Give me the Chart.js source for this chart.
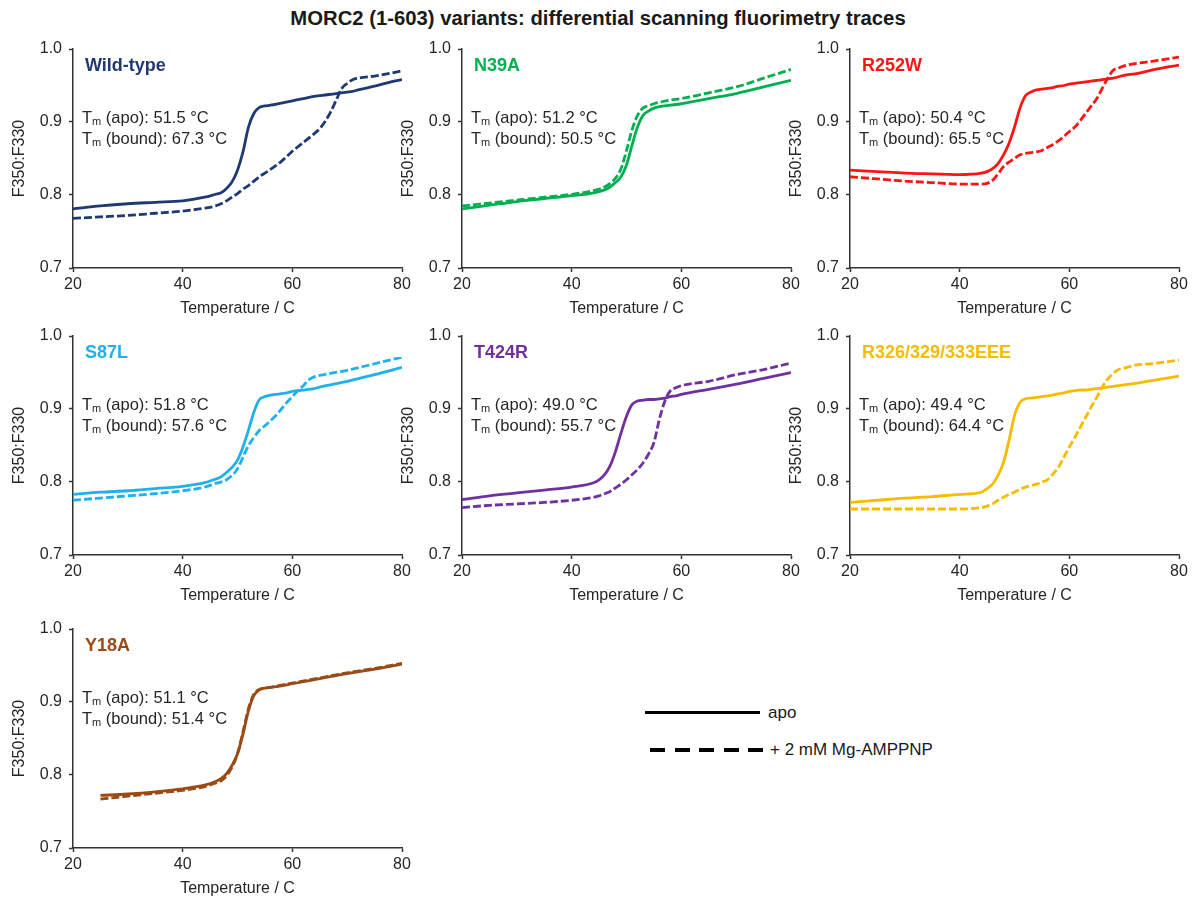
<!DOCTYPE html>
<html>
<head>
<meta charset="utf-8">
<script src="https://cdn.jsdelivr.net/npm/chart.js@4.4.0/dist/chart.umd.min.js"></script>
<style>
  html, body { margin:0; padding:0; background:#fff; }
  body { width:1196px; height:899px; position:relative; overflow:hidden; font-family:"Liberation Sans", Arial, sans-serif; }
  canvas { position:absolute; }
  #title { position:absolute; left:0; width:1196px; top:6px; text-align:center; font-weight:bold; font-size:20.3px; line-height:24px; color:#1a1a1a; }
  .leg-text { position:absolute; font-size:17px; line-height:20px; color:#1a1a1a; white-space:nowrap; }
  #legSolid { position:absolute; left:645px; top:711px; width:115px; height:3px; background:#000; }
  #legDash { position:absolute; left:650px; top:748px; width:113px; height:4px;
    background:repeating-linear-gradient(to right, #000 0 15px, transparent 15px 24.5px); }
</style>
</head>
<body>
<div id="title">MORC2 (1-603) variants: differential scanning fluorimetry traces</div>
<div id="legSolid"></div>
<div class="leg-text" style="left:768px; top:703px;">apo</div>
<div id="legDash"></div>
<div class="leg-text" style="left:770px; top:740px;">+ 2 mM Mg-AMPPNP</div>

<script>
// ---------- tick labels / axis settings ----------
const xTicks = [20, 40, 60, 80];
const yTicks = [0.7, 0.8, 0.9, 1.0];
const xTitle = 'Temperature / C';
const yTitle = 'F350:F330';

// ---------- Wild-type ----------
const wtTemps = [20,25,30,35,40,44,46,47,48,49,50,51,52,53,54,55,56,58,60,62,64,65,66,67,68,69,70,71,72,75,78,80];
const wtApo   = [0.781,0.785,0.788,0.790,0.792,0.797,0.801,0.803,0.809,0.818,0.834,0.859,0.893,0.912,0.920,0.922,0.923,0.926,0.929,0.932,0.935,0.936,0.937,0.938,0.939,0.940,0.941,0.942,0.944,0.949,0.955,0.958];
const wtBound = [0.768,0.770,0.772,0.775,0.778,0.782,0.785,0.788,0.792,0.797,0.802,0.808,0.813,0.819,0.825,0.830,0.835,0.846,0.860,0.872,0.884,0.891,0.901,0.914,0.930,0.946,0.953,0.958,0.960,0.963,0.967,0.970];

// ---------- N39A ----------
const n39Temps = [20,25,30,35,40,44,46,47,48,49,50,51,52,53,54,55,56,58,60,65,70,75,80];
const n39Apo   = [0.781,0.786,0.791,0.795,0.799,0.803,0.807,0.811,0.817,0.825,0.841,0.868,0.893,0.909,0.915,0.919,0.921,0.923,0.925,0.932,0.939,0.948,0.957];
const n39Bound = [0.785,0.789,0.793,0.797,0.801,0.806,0.811,0.816,0.823,0.836,0.861,0.889,0.909,0.919,0.922,0.925,0.927,0.930,0.932,0.940,0.948,0.960,0.972];

// ---------- R252W ----------
const r252Temps = [20,25,30,35,40,44,45,46,47,48,49,50,51,52,53,54,55,56,57,58,59,60,61,62,63,64,65,66,67,68,69,70,72,75,80];
const r252Apo   = [0.834,0.832,0.830,0.829,0.828,0.830,0.832,0.836,0.843,0.855,0.871,0.893,0.919,0.936,0.941,0.944,0.945,0.946,0.947,0.949,0.950,0.952,0.953,0.954,0.955,0.956,0.957,0.958,0.959,0.960,0.962,0.964,0.966,0.971,0.978];
const r252Bound = [0.825,0.822,0.819,0.817,0.815,0.815,0.816,0.820,0.829,0.839,0.845,0.850,0.855,0.857,0.858,0.859,0.861,0.865,0.869,0.874,0.880,0.887,0.893,0.902,0.912,0.922,0.932,0.946,0.960,0.971,0.974,0.977,0.980,0.983,0.989];

// ---------- S87L ----------
const s87Temps = [20,25,30,35,40,44,46,47,48,49,50,51,52,53,54,55,56,57,58,59,60,61,62,63,64,65,70,75,80];
const s87Apo   = [0.783,0.786,0.788,0.791,0.794,0.799,0.804,0.807,0.813,0.820,0.830,0.848,0.871,0.896,0.913,0.917,0.919,0.920,0.921,0.922,0.924,0.925,0.926,0.927,0.928,0.930,0.938,0.947,0.957];
const s87Bound = [0.775,0.778,0.781,0.784,0.788,0.793,0.798,0.800,0.803,0.809,0.818,0.834,0.850,0.861,0.871,0.877,0.884,0.891,0.900,0.909,0.917,0.925,0.932,0.940,0.944,0.946,0.953,0.962,0.971];

// ---------- T424R ----------
const t424Temps = [20,25,30,35,40,44,45,46,47,48,49,50,51,52,53,54,55,56,57,58,59,60,65,70,75,80];
const t424Apo   = [0.776,0.781,0.785,0.789,0.793,0.799,0.803,0.810,0.822,0.842,0.867,0.890,0.906,0.911,0.912,0.913,0.913,0.914,0.915,0.917,0.918,0.920,0.927,0.934,0.942,0.950];
const t424Bound = [0.765,0.768,0.770,0.772,0.775,0.779,0.781,0.784,0.787,0.792,0.797,0.803,0.810,0.817,0.826,0.838,0.854,0.886,0.911,0.925,0.929,0.932,0.938,0.947,0.954,0.963];

// ---------- R326/329/333EEE ----------
const eeeTemps = [20,25,30,35,40,44,45,46,47,48,49,50,51,52,53,54,55,56,57,58,59,60,61,62,63,64,65,66,67,68,69,70,72,75,80];
const eeeApo   = [0.772,0.775,0.778,0.780,0.783,0.786,0.791,0.797,0.809,0.827,0.857,0.891,0.909,0.914,0.915,0.916,0.917,0.918,0.919,0.921,0.922,0.924,0.925,0.926,0.926,0.927,0.928,0.929,0.930,0.931,0.932,0.933,0.935,0.939,0.945];
const eeeBound = [0.763,0.763,0.763,0.763,0.763,0.765,0.767,0.770,0.775,0.779,0.783,0.786,0.790,0.793,0.795,0.797,0.800,0.803,0.811,0.820,0.834,0.848,0.861,0.875,0.889,0.903,0.916,0.930,0.941,0.949,0.954,0.956,0.960,0.962,0.967];

// ---------- Y18A ----------
const y18Temps = [25,30,35,40,44,46,47,48,49,50,51,52,53,54,55,56,58,60,65,70,75,80];
const y18Apo   = [0.772,0.774,0.777,0.781,0.786,0.791,0.795,0.802,0.813,0.829,0.856,0.888,0.909,0.917,0.919,0.920,0.922,0.925,0.932,0.939,0.945,0.952];
const y18Bound = [0.767,0.771,0.775,0.779,0.784,0.789,0.792,0.799,0.811,0.829,0.859,0.891,0.911,0.917,0.919,0.920,0.923,0.926,0.933,0.940,0.946,0.953];

// ---------- panel descriptions ----------
const panels = [
  {name:'Wild-type', color:'#1f3a70', temps:wtTemps, apo:wtApo, bound:wtBound, tmApo:'51.5', tmBound:'67.3', col:0, row:0},
  {name:'N39A', color:'#00b050', temps:n39Temps, apo:n39Apo, bound:n39Bound, tmApo:'51.2', tmBound:'50.5', col:1, row:0},
  {name:'R252W', color:'#ff1414', temps:r252Temps, apo:r252Apo, bound:r252Bound, tmApo:'50.4', tmBound:'65.5', col:2, row:0},
  {name:'S87L', color:'#1eb1ec', temps:s87Temps, apo:s87Apo, bound:s87Bound, tmApo:'51.8', tmBound:'57.6', col:0, row:1},
  {name:'T424R', color:'#7030a0', temps:t424Temps, apo:t424Apo, bound:t424Bound, tmApo:'49.0', tmBound:'55.7', col:1, row:1},
  {name:'R326/329/333EEE', color:'#f7bb00', temps:eeeTemps, apo:eeeApo, bound:eeeBound, tmApo:'49.4', tmBound:'64.4', col:2, row:1},
  {name:'Y18A', color:'#9a4a15', temps:y18Temps, apo:y18Apo, bound:y18Bound, tmApo:'51.1', tmBound:'51.4', col:0, row:2}
];

// layout
const plotLefts = [73, 462, 850];
const plotTops = [49, 336, 629];
const PW = 329, PH = 219;
const YW = 73, XH = 52, PADT = 19, PADR = 14;
const FONT = '"Liberation Sans", Arial, sans-serif';
const AX = '#333333';

const annotPlugin = {
  id: 'annot',
  afterDraw(chart, args, opts) {
    const ctx = chart.ctx;
    const a = chart.chartArea;
    ctx.save();
    ctx.textBaseline = 'middle';
    ctx.textAlign = 'left';
    ctx.fillStyle = opts.color;
    ctx.font = 'bold 18px ' + FONT;
    ctx.fillText(opts.name, a.left + 12, a.top + 17);
    const y0 = a.top + 69;
    const lines = [' (apo): ' + opts.tmApo + ' °C', ' (bound): ' + opts.tmBound + ' °C'];
    lines.forEach((s, i) => {
      const yy = y0 + i * 21;
      let x = a.left + 9;
      ctx.fillStyle = '#262626';
      ctx.font = '16.5px ' + FONT;
      ctx.fillText('T', x, yy);
      x += ctx.measureText('T').width;
      ctx.font = '11px ' + FONT;
      ctx.fillText('m', x, yy + 4);
      x += ctx.measureText('m').width;
      ctx.font = '16.5px ' + FONT;
      ctx.fillText(s, x, yy);
    });
    ctx.restore();
  }
};

panels.forEach((p, idx) => {
  const cv = document.createElement('canvas');
  const left = plotLefts[p.col] - YW;
  const top = plotTops[p.row] - PADT;
  const w = YW + PW + PADR, h = PADT + PH + XH;
  cv.width = w; cv.height = h;
  cv.style.left = left + 'px'; cv.style.top = top + 'px';
  cv.style.width = w + 'px'; cv.style.height = h + 'px';
  document.body.appendChild(cv);

  const mk = (vals) => p.temps.map((t, i) => ({x: t, y: vals[i]}));
  new Chart(cv, {
    type: 'line',
    data: {
      datasets: [
        {label: 'apo', data: mk(p.apo), borderColor: p.color, borderWidth: 2.8, pointRadius: 0, fill: false, cubicInterpolationMode: 'monotone'},
        {label: '+ 2 mM Mg-AMPPNP', data: mk(p.bound), borderColor: p.color, borderWidth: 2.8, borderDash: [8, 3], pointRadius: 0, fill: false, cubicInterpolationMode: 'monotone'}
      ]
    },
    options: {
      responsive: false, animation: false, devicePixelRatio: 1,
      layout: {padding: {left: 0, top: PADT, right: PADR, bottom: 0}},
      plugins: {
        legend: {display: false}, tooltip: {enabled: false}, title: {display: false},
        annot: {name: p.name, color: p.color, tmApo: p.tmApo, tmBound: p.tmBound}
      },
      scales: {
        x: {
          type: 'linear', min: 20, max: 80,
          afterBuildTicks: (s) => { s.ticks = xTicks.map(v => ({value: v})); },
          ticks: {font: {family: FONT, size: 16}, color: '#262626', padding: 3, maxRotation: 0, callback: v => String(v)},
          grid: {drawOnChartArea: false, drawTicks: true, tickLength: 4, tickColor: AX, tickWidth: 1.5},
          border: {color: AX, width: 1.5},
          title: {display: true, text: xTitle, font: {family: FONT, size: 16}, color: '#262626', padding: {top: 0, bottom: 2}},
          afterFit: (s) => { s.height = XH; }
        },
        y: {
          type: 'linear', min: 0.7, max: 1.0,
          afterBuildTicks: (s) => { s.ticks = yTicks.map(v => ({value: v})); },
          ticks: {font: {family: FONT, size: 16}, color: '#262626', padding: 7, callback: v => v.toFixed(1)},
          grid: {drawOnChartArea: false, drawTicks: true, tickLength: 4, tickColor: AX, tickWidth: 1.5},
          border: {color: AX, width: 1.5},
          title: {display: true, text: yTitle, font: {family: FONT, size: 16}, color: '#262626', padding: {top: 10, bottom: 0}},
          afterFit: (s) => { s.width = YW; }
        }
      }
    },
    plugins: [annotPlugin]
  });
});
</script>
</body>
</html>
